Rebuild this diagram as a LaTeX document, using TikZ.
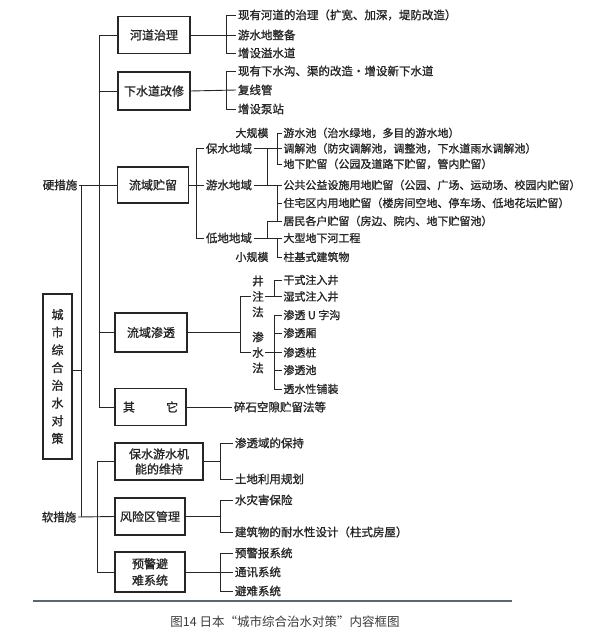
\documentclass[tikz,border=0pt]{standalone}
\usepackage{fontspec}
\setmainfont{Noto Sans CJK SC}[RawFeature={embolden=1.2}]
\newfontfamily\capfont{Noto Sans CJK SC}
\usepackage{tikz}

\definecolor{ink}{HTML}{262626}
\definecolor{rulegray}{HTML}{5C6670}
\definecolor{capgray}{HTML}{3A3A3A}

\tikzset{
  box/.style={draw=ink, line width=1.2pt, minimum width=72, minimum height=37,
    inner sep=2pt, align=center, font=\fontsize{12}{15}\selectfont},
  leaf/.style={anchor=west, inner sep=1.5pt, font=\fontsize{11.5}{13}\selectfont},
  small/.style={anchor=west, inner sep=1pt, font=\fontsize{11}{13}\selectfont},
  vtext/.style={inner sep=1pt, align=center, font=\fontsize{11.5}{15.5}\selectfont},
}

\begin{document}
\begin{tikzpicture}[x=1pt, y=-1pt, color=ink, line width=0.9pt]
  \useasboundingbox (0,0) rectangle (600,634);

  % root and the two groups
  \node[box, minimum width=29, minimum height=165, font=\fontsize{12}{17.7}\selectfont]
    (root) at (57.5,376.5) {城\\市\\综\\合\\治\\水\\对\\策};
  \node[leaf, anchor=center] (hard) at (60,185) {硬措施};
  \node[leaf, anchor=center] (soft) at (59,517) {软措施};

  \node[box] (hdzl) at (154,35) {河道治理};
  \node[box, minimum height=38] (xsd) at (154,91) {下水道改修};
  \node[box, minimum width=71, minimum height=36] (lyzl) at (153,185) {流域贮留};
  \node[box, minimum height=39] (lyst) at (151,332.5) {流域渗透};
  \node[box, minimum width=71] (qt) at (150.5,407) {其\hspace{2.6em}它};
  \node[box, minimum width=88] (bsys) at (159,461.5) {保水游水机\\能的维持};
  \node[box, minimum width=70] (fxq) at (150,516.5) {风险区管理};
  \node[box, minimum width=70, minimum height=40, font=\fontsize{12}{16.5}\selectfont]
    (yj) at (150,572) {预警避\\难系统};

  \coordinate (abus) at (81,0);
  \coordinate (hbus) at (99,0);
  \coordinate (sbus) at (97,0);
  \draw (hard.east) -- (lyzl.west);
  \draw (soft.east) -- (fxq.west);
  \draw (hard.east -| abus) -- (soft.east -| abus);
  \draw ([yshift=6.5pt]root.east) -- ([yshift=6.5pt]root.east -| abus);
  \draw (hdzl.west -| hbus) -- (qt.west -| hbus);
  \foreach \b in {hdzl,xsd,lyst,qt}
    \draw (\b.west -| hbus) -- (\b.west);
  \draw (bsys.west -| sbus) -- (yj.west -| sbus);
  \foreach \b in {bsys,yj}
    \draw (\b.west -| sbus) -- (\b.west);

  % 河道治理, 下水道改修
  \foreach \y/\t [count=\i] in {15/现有河道的治理（扩宽、加深，堤防改造）, 35/游水地整备, 53/增设溢水道}
    \node[leaf] (hd\i) at (236,\y) {\t};
  \foreach \y/\t [count=\i] in {71/现有下水沟、渠的改造·增设新下水道, 90/复线管, 109/增设泵站}
    \node[leaf] (xs\i) at (236,\y) {\t};
  \coordinate (k1) at (226,0);
  \draw (hdzl.east) -- (hd2.west);
  \draw (hd1.west) -| (k1 |- hd3.west) -- (hd3.west);
  \draw (xsd.east) -- (xs2.west);
  \draw (xs1.west) -| (k1 |- xs3.west) -- (xs3.west);

  % 流域贮留
  \node[leaf] (bsdy) at (204,148.5) {保水地域};
  \node[leaf] (ysdy) at (204,185) {游水地域};
  \node[leaf] (dddy) at (204,238) {低地地域};
  \node[small, anchor=center] (dgm) at (252,133) {大规模};
  \node[small, anchor=center] (xgm) at (252,257) {小规模};
  \foreach \y/\t [count=\i] in {133/游水池（治水绿地，多目的游水地）,
      148.5/调解池（防灾调解池，调整池，下水道雨水调解池）,
      164/地下贮留（公园及道路下贮留，管内贮留）,
      185/公共公益设施用地贮留（公园、广场、运动场、校园内贮留）,
      203/住宅区内用地贮留（楼房间空地、停车场、低地花坛贮留）,
      221/居民各户贮留（房边、院内、地下贮留池）,
      238/大型地下河工程, 257/柱基式建筑物}
    \node[small] (z\i) at (282,\y) {\t};
  \coordinate (k2) at (196,0);
  \coordinate (k3) at (267,0);
  \coordinate (k4) at (277,0);
  \draw (lyzl.east) -- (ysdy.west);
  \draw (bsdy.west) -| (k2 |- dddy.west) -- (dddy.west);
  \draw (bsdy.east) -- (z2.west);
  \draw (z1.west) -| (k4 |- z3.west) -- (z3.west);
  \draw (bsdy.east -| k3) -- (ysdy.east -| k3);
  \draw (ysdy.east) -- (z4.west);
  \draw (z4.west -| k4) |- (z6.west);
  \draw (z5.west -| k4) -- (z5.west);
  \draw (dddy.east) -- (z7.west);
  \draw (dddy.east -| k3) |- (z6.west -| k4);
  \draw (z7.west -| k4) |- (z8.west);

  % 流域渗透
  \node[vtext] (jz) at (258,296.5) {井\\注\\法};
  \node[vtext] (ss) at (258,352.5) {渗\\水\\法};
  \foreach \y/\t [count=\i] in {280/干式注入井, 296.5/湿式注入井, 315/渗透 U 字沟,
      333/渗透厢, 352.5/渗透桩, 370/渗透池, 389/透水性铺装}
    \node[small] (s\i) at (282,\y) {\t};
  \coordinate (k5) at (240,0);
  \coordinate (k6) at (274,0);
  \draw (lyst.east) -- (lyst.east -| k5);
  \draw (jz.west) -| (k5 |- ss.west) -- (ss.west);
  \draw (jz.east) -- (s2.west);
  \draw (s1.west) -| (k6 |- s2.west);
  \draw (ss.east) -- (s5.west);
  \draw (s3.west) -| (k6 |- s7.west) -- (s7.west);
  \foreach \i in {4,6}
    \draw (s\i.west -| k6) -- (s\i.west);

  % 其它
  \node[leaf] (qt1) at (232,407) {碎石空隙贮留法等};
  \draw (qt.east) -- (qt1.west);

  % 软措施
  \foreach \y/\t [count=\i] in {443/渗透域的保持, 479/土地利用规划}
    \node[leaf] (b\i) at (233,\y) {\t};
  \foreach \y/\t [count=\i] in {500/水灾害保险, 532/建筑物的耐水性设计（柱式房屋）}
    \node[leaf] (f\i) at (233,\y) {\t};
  \foreach \y/\t [count=\i] in {553/预警报系统, 572/通讯系统, 591/避难系统}
    \node[leaf] (y\i) at (233,\y) {\t};
  \coordinate (k7) at (220,0);
  \draw (bsys.east) -- (bsys.east -| k7);
  \draw (b1.west) -| (k7 |- b2.west) -- (b2.west);
  \draw (fxq.east) -- (fxq.east -| k7);
  \draw (f1.west) -| (k7 |- f2.west) -- (f2.west);
  \draw (yj.east) -- (y2.west);
  \draw (y1.west) -| (k7 |- y3.west) -- (y3.west);

  % caption
  \draw[rulegray, line width=1.1pt] (33,601) -- (512,601);
  \node[text=capgray, font=\capfont\fontsize{12.5}{14}\selectfont] (cap) at (285,622)
    {图14 日本“城市综合治水对策”内容框图};
\end{tikzpicture}
\end{document}
